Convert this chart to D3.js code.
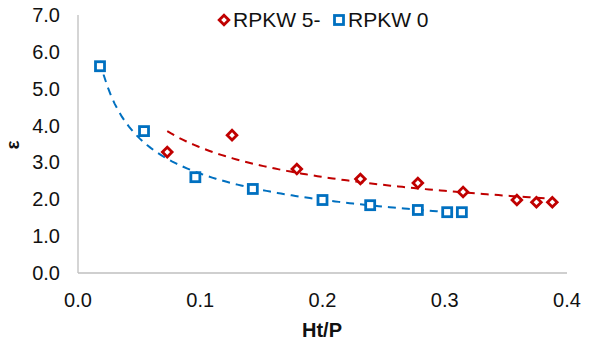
<!DOCTYPE html>
<html>
<head>
<meta charset="UTF-8" />
<script src="https://d3js.org/d3.v7.min.js"></script>
<style>
  body { margin: 0; padding: 0; background: #fff; }
  svg { font-family: Arial, "Liberation Sans", sans-serif; }
</style>
</head>
<body>
<svg width="592" height="347"></svg>
<script>
  // RPKW 5- (red diamonds)
  const redX = [0.073, 0.126, 0.179, 0.231, 0.278, 0.315, 0.359, 0.375, 0.388];
  const redY = [3.28, 3.74, 2.82, 2.55, 2.44, 2.20, 1.98, 1.92, 1.92];
  // RPKW 0 (blue squares)
  const blueX = [0.018, 0.054, 0.096, 0.143, 0.200, 0.239, 0.278, 0.302, 0.314];
  const blueY = [5.61, 3.85, 2.60, 2.28, 1.98, 1.84, 1.71, 1.65, 1.65];

  const xTicks = [0, 0.1, 0.2, 0.3, 0.4];
  const yTicks = [0, 1, 2, 3, 4, 5, 6, 7];

  const red = "#C00000", blue = "#0070C0";
  const svg = d3.select("svg");

  const x = d3.scaleLinear().domain([0, 0.4]).range([78, 567]);
  const y = d3.scaleLinear().domain([0, 7]).range([273, 15]);

  // axes: only the lines and labels, no tick marks
  svg.append("line").attr("x1", x(0)).attr("x2", x(0)).attr("y1", y(7)).attr("y2", y(0))
    .attr("stroke", "#BFBFBF").attr("stroke-width", 1.3);
  svg.append("line").attr("x1", x(0)).attr("x2", x(0.4)).attr("y1", y(0)).attr("y2", y(0))
    .attr("stroke", "#BFBFBF").attr("stroke-width", 1.3);

  svg.append("g").selectAll("text").data(yTicks).join("text")
    .attr("x", 60).attr("y", d => y(d) + 7)
    .attr("text-anchor", "end").attr("font-size", 20).attr("fill", "#111")
    .text(d => d.toFixed(1));

  svg.append("g").selectAll("text").data(xTicks).join("text")
    .attr("x", d => x(d)).attr("y", 307)
    .attr("text-anchor", "middle").attr("font-size", 20).attr("fill", "#111")
    .text(d => d.toFixed(1));

  svg.append("text").attr("x", 322).attr("y", 337).attr("text-anchor", "middle")
    .attr("font-size", 20).attr("font-weight", "bold").attr("fill", "#111").text("Ht/P");
  svg.append("text").attr("transform", "translate(19,145) rotate(-90)").attr("text-anchor", "middle")
    .attr("font-size", 19).attr("font-weight", "bold").attr("fill", "#111").text("ε");

  // power trendline y = a*x^b, least squares on logs
  function powerFit(xs, ys) {
    const lx = xs.map(Math.log), ly = ys.map(Math.log);
    const mx = d3.mean(lx), my = d3.mean(ly);
    const b = d3.sum(lx, (v, i) => (v - mx) * (ly[i] - my)) / d3.sum(lx, v => (v - mx) ** 2);
    const a = Math.exp(my - b * mx);
    return v => a * Math.pow(v, b);
  }

  function trend(xs, ys, color) {
    const f = powerFit(xs, ys);
    const pts = d3.range(0, 101).map(i => {
      const v = d3.min(xs) + (d3.max(xs) - d3.min(xs)) * i / 100;
      return [v, f(v)];
    });
    svg.append("path").datum(pts)
      .attr("d", d3.line().x(d => x(d[0])).y(d => y(d[1])))
      .attr("fill", "none").attr("stroke", color).attr("stroke-width", 2)
      .attr("stroke-dasharray", "8,6");
  }
  trend(redX, redY, red);
  trend(blueX, blueY, blue);

  const diamond = "M-3.4,-3.4H3.4V3.4H-3.4Z";

  // markers
  svg.append("g").selectAll("rect").data(blueX).join("rect")
    .attr("x", (d, i) => x(d) - 4.5).attr("y", (d, i) => y(blueY[i]) - 4.5)
    .attr("width", 9).attr("height", 9)
    .attr("fill", "#fff").attr("stroke", blue).attr("stroke-width", 2.8);

  svg.append("g").selectAll("path").data(redX).join("path")
    .attr("transform", (d, i) => `translate(${x(d)},${y(redY[i])}) rotate(45)`)
    .attr("d", diamond)
    .attr("fill", "#fff").attr("stroke", red).attr("stroke-width", 2.8);

  // legend
  const lg = svg.append("g");
  lg.append("path").attr("transform", "translate(224,20) rotate(45)")
    .attr("d", diamond)
    .attr("fill", "#fff").attr("stroke", red).attr("stroke-width", 2.8);
  lg.append("text").attr("x", 233).attr("y", 27).attr("font-size", 21).attr("fill", "#111").text("RPKW 5-");
  lg.append("rect").attr("x", 334.5).attr("y", 15.5).attr("width", 9).attr("height", 9)
    .attr("fill", "#fff").attr("stroke", blue).attr("stroke-width", 2.8);
  lg.append("text").attr("x", 348).attr("y", 27).attr("font-size", 21).attr("fill", "#111").text("RPKW 0");
</script>
</body>
</html>
